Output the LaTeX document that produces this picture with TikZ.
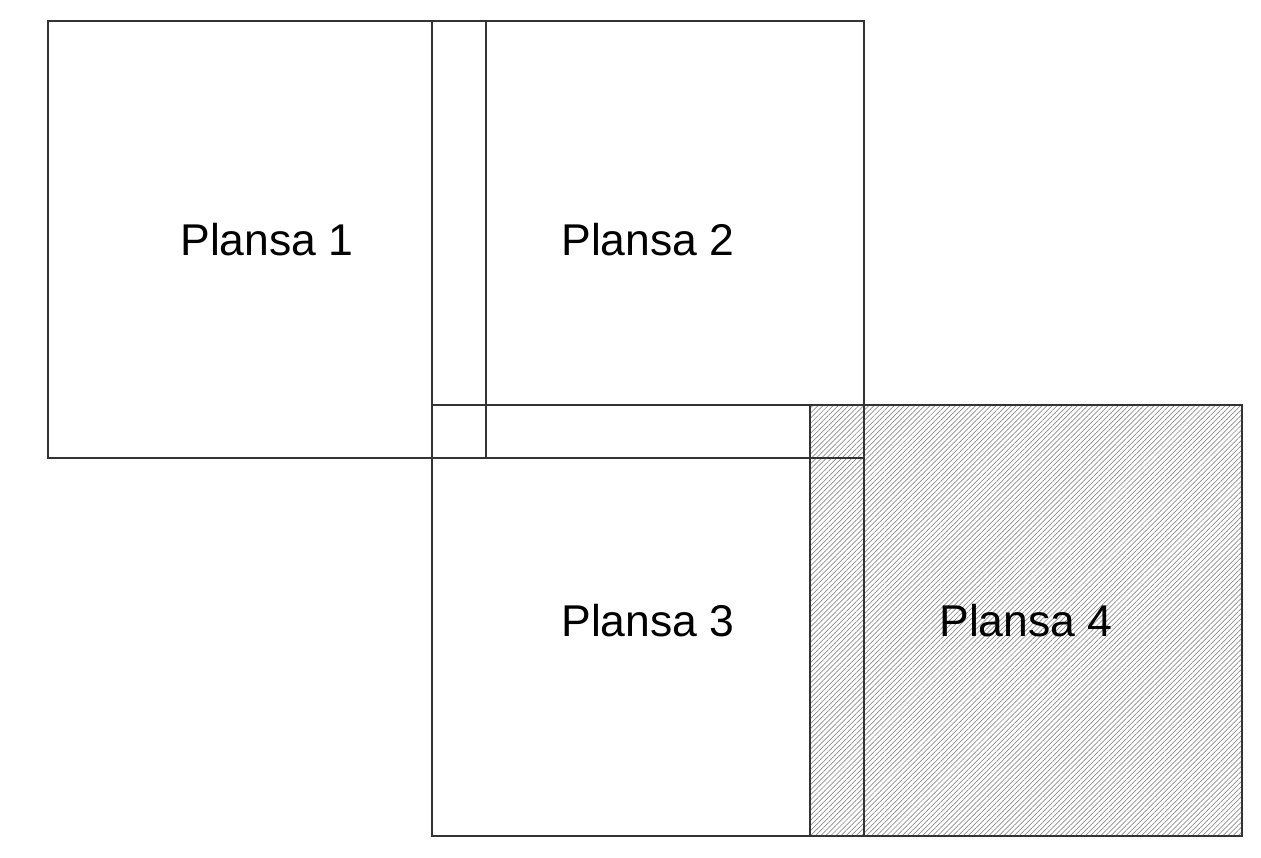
\documentclass[tikz,border=0pt]{standalone}
\usepackage{fontspec}
\setmainfont{Liberation Sans}
\usetikzlibrary{patterns.meta}
\begin{document}
\begin{tikzpicture}[x=1pt,y=-1pt,
  sheet/.style={draw=black!80,line width=1.3pt,rectangle,inner sep=0pt,font=\fontsize{44.5}{50}\selectfont},
  hatched/.style={pattern={Lines[angle=45,distance=3.6pt,line width=0.7pt]},pattern color=black!45}]
\useasboundingbox (0,0) rectangle (1261,857);
\node[sheet,hatched,minimum width=432pt,minimum height=431pt] (p4) at (1026,620.5) {Plansa 4};
\node[sheet,minimum width=438pt,minimum height=437pt] (p1) at (267,239.5) {Plansa 1};
\node[sheet,minimum width=432pt,minimum height=437pt] (p2) at (648,239.5) {Plansa 2};
\node[sheet,minimum width=432pt,minimum height=431pt] (p3) at (648,620.5) {Plansa 3};
\end{tikzpicture}
\end{document}
